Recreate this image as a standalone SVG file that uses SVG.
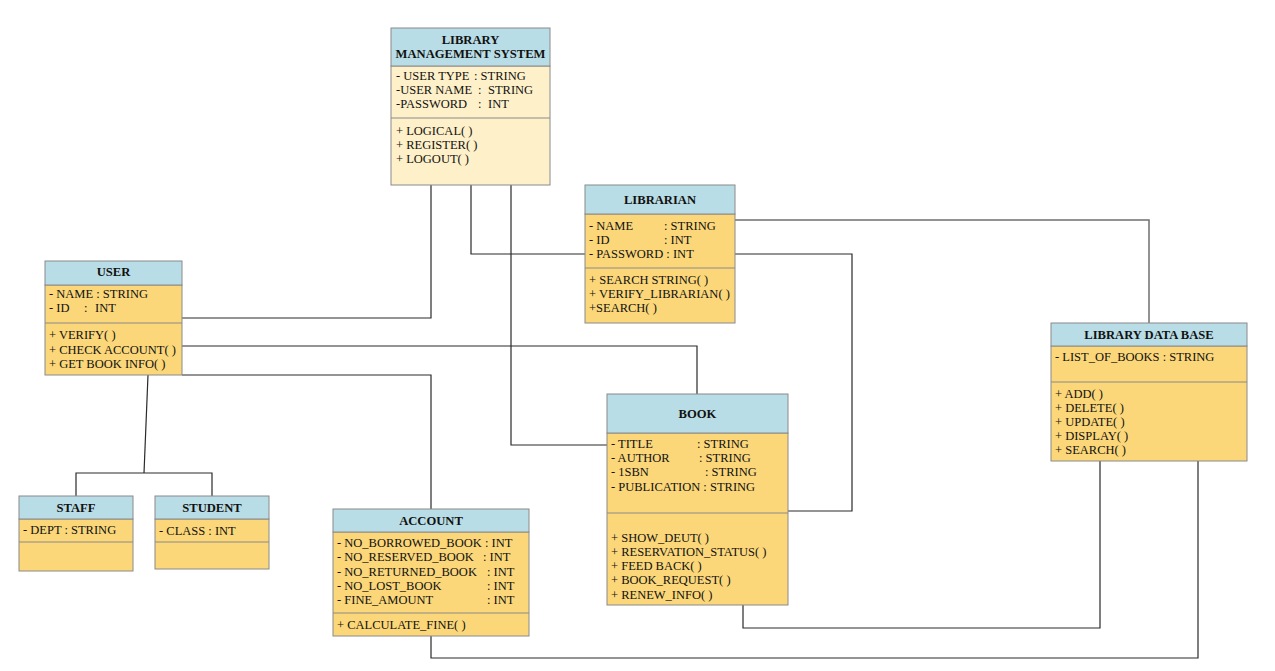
<svg xmlns="http://www.w3.org/2000/svg" width="1275" height="671" viewBox="0 0 1275 671">
<style>
.hd{fill:#b9dde6;stroke:#8a8a8a;stroke-width:1}
.bd{fill:#fbd77a;stroke:#8a8a8a;stroke-width:1}
.bl{fill:#fef0c8;stroke:#8a8a8a;stroke-width:1}
text{font-family:"Liberation Serif","Times New Roman",serif;font-size:12.5px;fill:#111}
.t{font-weight:bold;text-anchor:middle;font-size:12.6px}
.c{fill:none;stroke:#2a2a2a;stroke-width:1.2}
</style>
<rect width="1275" height="671" fill="#ffffff"/>
<g id="connectors">
<polyline class="c" points="431,185 431,318 182,318"/>
<polyline class="c" points="471,185 471,254 585,254"/>
<polyline class="c" points="511,185 511,445 607,445"/>
<polyline class="c" points="735,220 1149,220 1149,323" style="stroke:#6f6f6f;stroke-width:1.5"/>
<polyline class="c" points="735,254 852,254 852,511 788,511"/>
<polyline class="c" points="182,346 697,346 697,394"/>
<polyline class="c" points="182,375 431,375 431,509"/>
<polyline class="c" points="148,375 144,473"/>
<polyline class="c" points="76,496 76,473 212,473 212,496"/>
<polyline class="c" points="743,605 743,628 1100,628 1100,461"/>
<polyline class="c" points="431,636 431,658 1198,658 1198,461"/>
</g>
<g id="lms">
<rect class="bl" x="391" y="66" width="159" height="119"/>
<line x1="391" y1="118" x2="550" y2="118" stroke="#8a8a8a"/>
<rect class="hd" x="391" y="28" width="159" height="38"/>
<text class="t" x="470.5" y="44">LIBRARY</text>
<text class="t" x="470.5" y="58">MANAGEMENT SYSTEM</text>
<text x="396" y="80">- USER TYPE<tspan x="474">: STRING</tspan></text>
<text x="396" y="94">-USER NAME<tspan x="478">:</tspan><tspan x="488">STRING</tspan></text>
<text x="396" y="108">-PASSWORD<tspan x="478">:</tspan><tspan x="488">INT</tspan></text>
<text x="396" y="135">+ LOGICAL( )</text>
<text x="396" y="149">+ REGISTER( )</text>
<text x="396" y="163">+ LOGOUT( )</text>
</g>
<g id="librarian">
<rect class="bd" x="585" y="214" width="150" height="109"/>
<line x1="585" y1="268" x2="735" y2="268" stroke="#8a8a8a"/>
<rect class="hd" x="585" y="185" width="150" height="29"/>
<text class="t" x="660" y="204">LIBRARIAN</text>
<text x="589" y="230">- NAME<tspan x="664">: STRING</tspan></text>
<text x="589" y="244">- ID<tspan x="664">: INT</tspan></text>
<text x="589" y="258">- PASSWORD : INT</text>
<text x="589" y="284">+ SEARCH STRING( )</text>
<text x="589" y="298">+ VERIFY_LIBRARIAN( )</text>
<text x="589" y="312">+SEARCH( )</text>
</g>
<g id="user">
<rect class="bd" x="45" y="285" width="137" height="90"/>
<line x1="45" y1="323" x2="182" y2="323" stroke="#8a8a8a"/>
<rect class="hd" x="45" y="261" width="137" height="24"/>
<text class="t" x="113.5" y="276">USER</text>
<text x="49" y="298">- NAME : STRING</text>
<text x="49" y="312">- ID<tspan x="84">:</tspan><tspan x="95">INT</tspan></text>
<text x="49" y="339">+ VERIFY( )</text>
<text x="49" y="354">+ CHECK ACCOUNT( )</text>
<text x="49" y="368">+ GET BOOK INFO( )</text>
</g>
<g id="staff">
<rect class="bd" x="19" y="519" width="114" height="52"/>
<line x1="19" y1="542" x2="133" y2="542" stroke="#8a8a8a"/>
<rect class="hd" x="19" y="496" width="114" height="23"/>
<text class="t" x="76" y="512">STAFF</text>
<text x="23" y="534">- DEPT : STRING</text>
</g>
<g id="student">
<rect class="bd" x="155" y="519" width="114" height="50"/>
<line x1="155" y1="542" x2="269" y2="542" stroke="#8a8a8a"/>
<rect class="hd" x="155" y="496" width="114" height="23"/>
<text class="t" x="212" y="512">STUDENT</text>
<text x="159" y="535">- CLASS : INT</text>
</g>
<g id="account">
<rect class="bd" x="333" y="532" width="196" height="104"/>
<line x1="333" y1="613" x2="529" y2="613" stroke="#8a8a8a"/>
<rect class="hd" x="333" y="509" width="196" height="23"/>
<text class="t" x="431" y="525">ACCOUNT</text>
<text x="337" y="547">- NO_BORROWED_BOOK<tspan x="485">: INT</tspan></text>
<text x="337" y="561">- NO_RESERVED_BOOK<tspan x="483">: INT</tspan></text>
<text x="337" y="576">- NO_RETURNED_BOOK<tspan x="487">: INT</tspan></text>
<text x="337" y="590">- NO_LOST_BOOK<tspan x="487">: INT</tspan></text>
<text x="337" y="604">- FINE_AMOUNT<tspan x="487">: INT</tspan></text>
<text x="337" y="629">+ CALCULATE_FINE( )</text>
</g>
<g id="book">
<rect class="bd" x="607" y="433" width="181" height="172"/>
<line x1="607" y1="513" x2="788" y2="513" stroke="#8a8a8a"/>
<rect class="hd" x="607" y="394" width="181" height="39"/>
<text class="t" x="697.5" y="418">BOOK</text>
<text x="611" y="448">- TITLE<tspan x="697">: STRING</tspan></text>
<text x="611" y="462">- AUTHOR<tspan x="699">: STRING</tspan></text>
<text x="611" y="476">- 1SBN<tspan x="705">: STRING</tspan></text>
<text x="611" y="491">- PUBLICATION : STRING</text>
<text x="611" y="542">+ SHOW_DEUT( )</text>
<text x="611" y="556">+ RESERVATION_STATUS( )</text>
<text x="611" y="570">+ FEED BACK( )</text>
<text x="611" y="584">+ BOOK_REQUEST( )</text>
<text x="611" y="599">+ RENEW_INFO( )</text>
</g>
<g id="library-data-base">
<rect class="bd" x="1051" y="346" width="196" height="115"/>
<line x1="1051" y1="382" x2="1247" y2="382" stroke="#8a8a8a"/>
<rect class="hd" x="1051" y="323" width="196" height="23"/>
<text class="t" x="1149" y="339">LIBRARY DATA BASE</text>
<text x="1055" y="361">- LIST_OF_BOOKS : STRING</text>
<text x="1055" y="398">+ ADD( )</text>
<text x="1055" y="412">+ DELETE( )</text>
<text x="1055" y="426">+ UPDATE( )</text>
<text x="1055" y="440">+ DISPLAY( )</text>
<text x="1055" y="454">+ SEARCH( )</text>
</g>
</svg>
